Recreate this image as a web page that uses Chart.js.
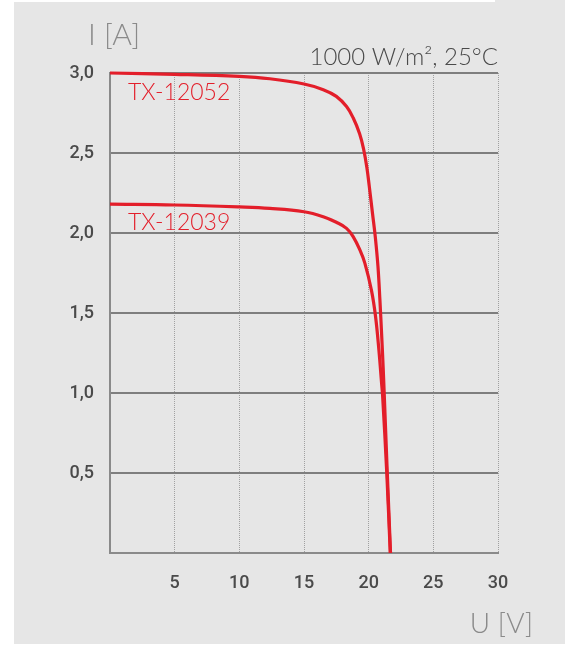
<!DOCTYPE html>
<html>
<head>
<meta charset="utf-8">
<script src="https://cdn.jsdelivr.net/npm/chart.js@4.4.0/dist/chart.umd.min.js"></script>
<style>
  html, body { margin:0; padding:0; background:#ffffff; }
  #panel { position:absolute; left:14px; top:0; width:551px; height:644px; background:#e6e6e6; }
  #strip { position:absolute; left:14px; top:0; width:481px; height:2px; background:#ffffff; }
  #wrap { position:absolute; left:0; top:0; width:573px; height:645px; }
</style>
</head>
<body>
<div id="panel"></div>
<div id="strip"></div>
<div id="wrap"><canvas id="c" width="573" height="645"></canvas></div>
<script>
// ---- data ----
const seriesNames = ['TX-12052', 'TX-12039'];
const voltage1 = [0, 5, 10, 12.36, 15, 16.49, 17.5, 18.29, 18.8, 19.3, 19.62, 19.86, 20.05, 20.3, 20.52, 20.72, 20.87, 21.0, 21.12, 21.2, 21.44, 21.69];
const current1 = [3.0, 2.992, 2.979, 2.964, 2.931, 2.896, 2.854, 2.79, 2.72, 2.62, 2.52, 2.41, 2.29, 2.12, 1.97, 1.79, 1.58, 1.37, 1.16, 1.0, 0.5, 0];
const voltage2 = [0, 5, 10, 12.36, 15, 16.49, 17.5, 18.29, 18.8, 19.32, 19.71, 20.22, 20.53, 20.79, 21.0, 21.08, 21.4, 21.67];
const current2 = [2.18, 2.175, 2.163, 2.154, 2.133, 2.102, 2.067, 2.029, 1.977, 1.894, 1.81, 1.64, 1.48, 1.27, 1.06, 0.98, 0.5, 0];
const xTickValues = [5, 10, 15, 20, 25, 30];
const yTickValues = [0.5, 1.0, 1.5, 2.0, 2.5, 3.0];
const yAxisTitle = 'I [A]';
const xAxisTitle = 'U [V]';
const conditionText = '1000 W/m², 25°C';

const RED = '#e31e2a';
function pts(xs, ys) { return xs.map((x, i) => ({ x: x, y: ys[i] })); }

const textPlugin = {
  id: 'texts',
  afterDraw(chart) {
    const ctx = chart.ctx;
    const xs = chart.scales.x;
    ctx.save();
    ctx.textBaseline = 'alphabetic';
    ctx.fillStyle = '#8a8a8a';
    ctx.font = '300 30px Lato';
    ctx.textAlign = 'left';
    ctx.fillText(yAxisTitle, 88, 45);
    ctx.font = '300 28px Lato';
    ctx.textAlign = 'right';
    ctx.fillText(xAxisTitle, 533, 633);
    ctx.fillStyle = '#4a4a4a';
    ctx.font = '300 24px Lato';
    ctx.fillText(conditionText, xs.right, 65);
    ctx.fillStyle = RED;
    ctx.font = '300 23px Lato';
    ctx.textAlign = 'left';
    ctx.fillText(seriesNames[0], 128, 100);
    ctx.fillText(seriesNames[1], 128, 230);
    ctx.restore();
  }
};

new Chart(document.getElementById('c'), {
  type: 'line',
  data: {
    datasets: [
      { label: seriesNames[0], data: pts(voltage1, current1), borderColor: RED, borderWidth: 3.2,
        pointRadius: 0, tension: 0.4, fill: false, clip: false },
      { label: seriesNames[1], data: pts(voltage2, current2), borderColor: RED, borderWidth: 3.2,
        pointRadius: 0, tension: 0.4, fill: false, clip: false }
    ]
  },
  options: {
    responsive: false,
    animation: false,
    devicePixelRatio: 1,
    layout: { padding: { left: 0, top: 73, right: 75, bottom: 0 } },
    plugins: { legend: { display: false }, tooltip: { enabled: false }, title: { display: false } },
    scales: {
      x: {
        type: 'linear', min: 0, max: 30,
        afterFit(s) { s.height = 92; },
        afterBuildTicks(s) { s.ticks = [0].concat(xTickValues).map(v => ({ value: v })); },
        ticks: {
          padding: 20, color: '#4a4a4a',
          font: { family: 'Roboto', weight: '500', size: 18 },
          callback: v => (v === 0 ? '' : String(v))
        },
        grid: { color: '#a0a0a0', lineWidth: 1, drawTicks: false },
        border: { display: true, color: '#8a8a8a', width: 2, dash: [1, 1] }
      },
      y: {
        type: 'linear', min: 0, max: 3,
        afterFit(s) { s.width = 110; },
        afterBuildTicks(s) { s.ticks = [0].concat(yTickValues).map(v => ({ value: v })); },
        ticks: {
          padding: 16, color: '#4a4a4a',
          font: { family: 'Roboto', weight: '500', size: 18 },
          callback: v => (v === 0 ? '' : v.toFixed(1).replace('.', ','))
        },
        grid: { color: '#7e7e7e', lineWidth: 2, drawTicks: false },
        border: { display: true, color: '#8a8a8a', width: 2 }
      }
    }
  },
  plugins: [textPlugin]
});
</script>
</body>
</html>
